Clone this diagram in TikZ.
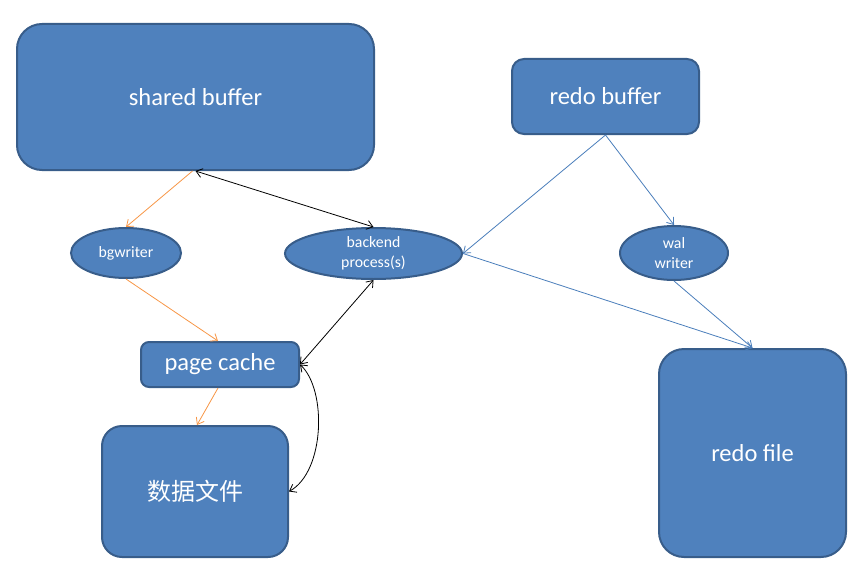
\documentclass[tikz,border=0pt]{standalone}
\usepackage{fontspec}
\setmainfont{Carlito}
\newfontfamily\cjk{Noto Sans CJK SC}
\usetikzlibrary{arrows.meta,calc,shapes.geometric}
\definecolor{boxfill}{HTML}{4F81BD}
\definecolor{boxline}{HTML}{385D8A}
\definecolor{orangeline}{HTML}{F79646}
\definecolor{blueline}{HTML}{4A7EBB}
\tikzset{
  box/.style={draw=boxline, fill=boxfill, line width=2pt, text=white, inner sep=0pt},
  bigtext/.style={font=\fontsize{24.5}{28}\selectfont},
  oval/.style={ellipse, draw=boxline, fill=boxfill, line width=2pt, text=white, inner sep=0pt, align=center, font=\fontsize{15.8}{20}\selectfont},
  tip/.style={-{Straight Barb[length=6pt,width=9pt]}},
  dtip/.style={{Straight Barb[length=6pt,width=9pt]}-{Straight Barb[length=6pt,width=9pt]}},
  oarrow/.style={tip, draw=orangeline, line width=0.8pt},
  barrow/.style={tip, draw=blueline, line width=0.8pt},
  karrow/.style={dtip, draw=black, line width=0.8pt},
}
\begin{document}
\begin{tikzpicture}[x=1pt,y=-1pt]
\useasboundingbox (0,0) rectangle (866,583);
\node[box, bigtext, rounded corners=25pt, minimum width=357pt, minimum height=146pt] (sb) at (195.5,97) {shared buffer};
\node[box, bigtext, rounded corners=12pt, minimum width=187pt, minimum height=75pt] (rb) at (605.5,96.5) {redo buffer};
\node[oval, minimum width=110pt, minimum height=50pt] (bg) at (126,253) {bgwriter};
\node[oval, minimum width=177pt, minimum height=51pt] (be) at (373.5,253.5) {backend\\process(s)};
\node[oval, minimum width=108pt, minimum height=54pt] (ww) at (674,253) {wal\\writer};
\node[box, bigtext, rounded corners=8pt, minimum width=158pt, minimum height=45pt] (pc) at (220,364.5) {page cache};
\node[box, rounded corners=20pt, minimum width=186pt, minimum height=131pt, font=\fontsize{24}{28}\selectfont\cjk] (df) at (195,491.5) {数据文件};
\node[box, bigtext, rounded corners=25pt, minimum width=187pt, minimum height=208pt] (rf) at (752.5,453) {redo file};
% orange
\draw[oarrow] ([xshift=-3pt]sb.south) -- (bg.north);
\draw[oarrow] (bg.south) -- ([xshift=-2pt]pc.north);
\draw[oarrow] ([xshift=-2pt]pc.south) -- ([xshift=2pt]df.north);
% black
\draw[karrow] (sb.south) -- (be.north);
\draw[karrow] (be.south) -- (pc.east);
\draw[karrow] (pc.east) .. controls +(27,25) and +(36,-20) .. (df.east);
% blue
\draw[barrow] (rb.south) -- (be.east);
\draw[barrow] (rb.south) -- (ww.north);
\draw[barrow] (be.east) -- (rf.north);
\draw[barrow] (ww.south) -- (rf.north);
\end{tikzpicture}
\end{document}
